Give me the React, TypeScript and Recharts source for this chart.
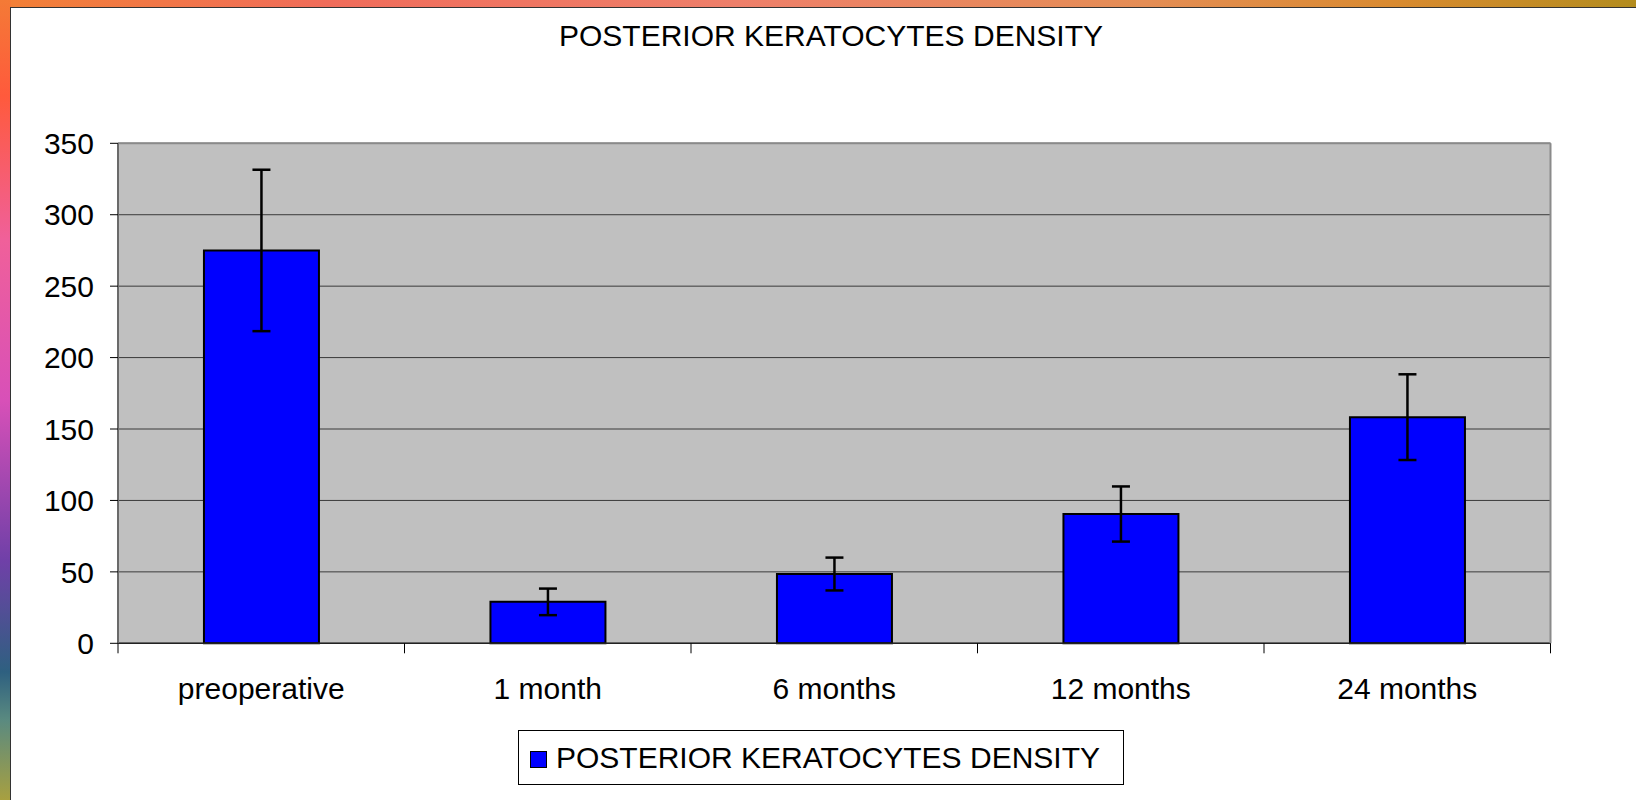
import React from "react";
import {
  BarChart,
  Bar,
  XAxis,
  YAxis,
  CartesianGrid,
  ErrorBar,
  Legend,
} from "recharts";

const categories = ["preoperative", "1 month", "6 months", "12 months", "24 months"];
const densityValues = [275, 29, 48.5, 90.5, 158.3];
const densityErrors = [56.5, 9.3, 11.5, 19.3, 30];
const yTicks = [0, 50, 100, 150, 200, 250, 300, 350];

const SERIES = "POSTERIOR KERATOCYTES DENSITY";
const FONT = "'Liberation Sans', Arial, Helvetica, sans-serif";

const data = categories.map((name, i) => ({
  name,
  value: densityValues[i],
  err: densityErrors[i],
}));

function LegendBox() {
  return (
    <div
      style={{
        width: 604,
        height: 53,
        border: "1px solid #000",
        background: "#fff",
        display: "flex",
        alignItems: "center",
        fontFamily: FONT,
        fontSize: 30,
        color: "#000",
        boxSizing: "content-box",
      }}
    >
      <span
        style={{
          display: "inline-block",
          width: 15,
          height: 15,
          background: "#0000ff",
          border: "1px solid #000",
          marginLeft: 11,
          marginRight: 9,
          marginTop: 4,
        }}
      />
      <span style={{ lineHeight: "30px", whiteSpace: "nowrap" }}>{SERIES}</span>
    </div>
  );
}

// category label plus Excel-style tick marks on the category boundaries
function CategoryTick(props: any) {
  const { x, y, payload, index, visibleTicksCount } = props;
  const half = payload?.offset ?? 0;
  const last = index === visibleTicksCount - 1;
  return (
    <g>
      <line x1={x - half} x2={x - half} y1={y} y2={y + 10} stroke="#000" strokeWidth={1} />
      {last && (
        <line x1={x + half} x2={x + half} y1={y} y2={y + 10} stroke="#000" strokeWidth={1} />
      )}
      <text
        x={x}
        y={y + 34}
        dy="0.71em"
        textAnchor="middle"
        fill="#000"
        fontSize={30}
        fontFamily={FONT}
      >
        {payload.value}
      </text>
    </g>
  );
}

export default function App() {
  return (
    <div style={{ position: "relative", width: 1636, height: 800, overflow: "hidden" }}>
      <style>{`body{margin:0}`}</style>
      <div
        style={{
          position: "absolute",
          left: 0,
          top: 0,
          width: 1636,
          height: 8,
          background:
            "linear-gradient(to right, #f28035 0%, #f06c5a 20%, #ee7f6a 45%, #e48d55 70%, #d98a30 85%, #b38c1e 100%)",
        }}
      />
      <div
        style={{
          position: "absolute",
          left: 0,
          top: 0,
          width: 11,
          height: 800,
          background:
            "linear-gradient(to bottom, #f47a36 0%, #ff5a3c 12%, #f0609a 30%, #d850b8 50%, #7040a8 70%, #2e6080 84%, #5a8a80 90%, #a8a040 100%)",
        }}
      />
      <div
        style={{
          position: "absolute",
          left: 10,
          top: 7,
          right: 0,
          bottom: 0,
          background: "#fff",
          borderLeft: "1px solid #333",
          borderTop: "1px solid #333",
        }}
      />
      <div
        style={{
          position: "absolute",
          left: 431,
          top: 21,
          width: 800,
          textAlign: "center",
          fontFamily: FONT,
          fontSize: 30,
          lineHeight: "30px",
          color: "#000",
        }}
      >
        {SERIES}
      </div>
      <div style={{ position: "absolute", left: 0, top: 0 }}>
        <BarChart
          width={1636}
          height={800}
          data={data}
          barCategoryGap="30%"
          margin={{ top: 142.3, right: 84.5, bottom: 155.7, left: 0 }}
        >
          <CartesianGrid
            vertical={false}
            fill="#c0c0c0"
            fillOpacity={1}
            stroke="#3a3a3a"
            strokeWidth={1}
          />
          <XAxis
            dataKey="name"
            height={1}
            interval={0}
            tickLine={false}
            tickSize={0}
            tickMargin={0}
            axisLine={{ stroke: "#222", strokeWidth: 1.5 }}
            tick={CategoryTick}
          />
          <XAxis
            xAxisId="top"
            orientation="top"
            height={1}
            tick={false}
            tickLine={false}
            axisLine={{ stroke: "#8a8a8a", strokeWidth: 2 }}
          />
          <YAxis
            width={118}
            domain={[0, 350]}
            ticks={yTicks}
            interval={0}
            tickSize={8}
            tickMargin={16}
            tickLine={{ stroke: "#000" }}
            axisLine={{ stroke: "#6a6a6a", strokeWidth: 2 }}
            tick={{ fill: "#000", fontSize: 30, fontFamily: FONT }}
          />
          <YAxis
            yAxisId="right"
            orientation="right"
            width={1}
            domain={[0, 350]}
            tick={false}
            tickLine={false}
            axisLine={{ stroke: "#8a8a8a", strokeWidth: 2 }}
          />
          <Legend
            layout="horizontal"
            verticalAlign="middle"
            align="center"
            wrapperStyle={{ top: 730, left: 518, width: "auto" }}
            content={() => <LegendBox />}
          />
          <Bar
            dataKey="value"
            name={SERIES}
            fill="#0000ff"
            stroke="#000"
            strokeWidth={2}
            isAnimationActive={false}
          >
            <ErrorBar
              dataKey="err"
              width={9}
              stroke="#000"
              strokeWidth={2.5}
              direction="y"
            />
          </Bar>
        </BarChart>
      </div>
    </div>
  );
}
